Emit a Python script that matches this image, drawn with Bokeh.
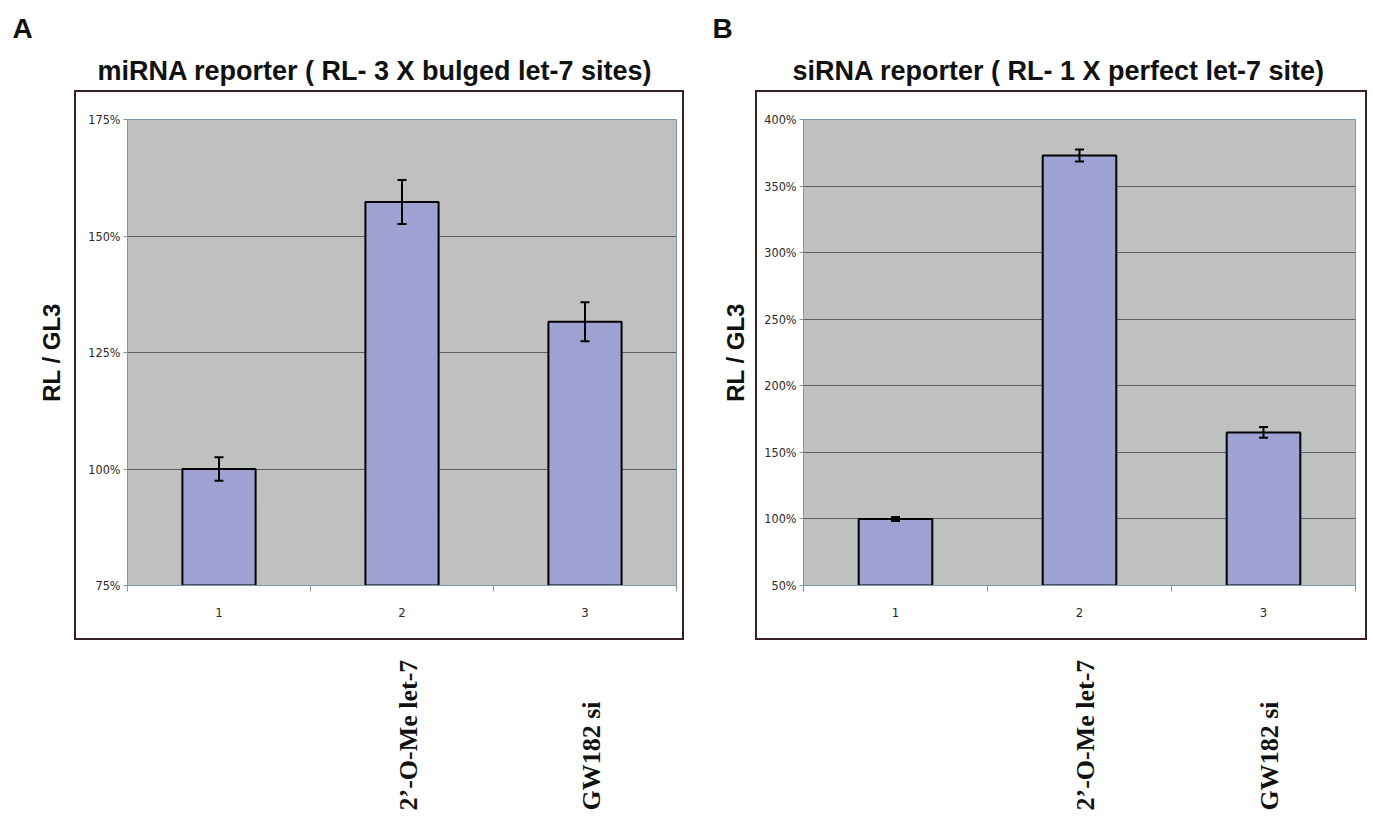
from math import pi
from bokeh.plotting import figure
from bokeh.models import (ColumnDataSource, Whisker, TeeHead, FixedTicker, Title,
                          PrintfTickFormatter, Label, Range1d, InlineStyleSheet)
from bokeh.layouts import row, column
from bokeh.embed import file_html
from bokeh.resources import INLINE

# ---------------- data ----------------
categories = [1, 2, 3]
a_values = [100.0, 157.3, 131.6]
a_errors = [2.5, 4.7, 4.2]
b_values = [100.0, 373.0, 165.0]
b_errors = [1.5, 4.5, 4.0]
a_ticks = [75, 100, 125, 150, 175]
b_ticks = [50, 100, 150, 200, 250, 300, 350, 400]
treatment_ticks = [2, 3]
treatment_labels = ["2\u2019-O-Me let-7", "GW182 si"]
panel_letters = ["A", "B"]
panel_titles = ["miRNA reporter ( RL- 3 X bulged let-7 sites)",
                "siRNA reporter ( RL- 1 X perfect let-7 site)"]
y_label = "RL / GL3"

BAR_FILL = "#9da2d2"
GRAY = "#c0c0c0"
GRID = "#5a5e60"
AXIS = "#7d97a6"
BOX = "#3a2222"
TEXT = "#111111"
TICK_TEXT = "#2a2a2a"

HEAD_H = 90      # header strip (letter + title)
MAIN_H = 550     # chart strip (outer box region)
FOOT_H = 188     # rotated treatment labels
HEAD_FRAME_TOP = 82


def blank_fig(width, height, x_range, geo, top=0):
    f = figure(width=width, height=height, output_backend="svg", toolbar_location=None,
               x_range=x_range, y_range=Range1d(0, 1),
               x_axis_location=None, y_axis_location=None,
               min_border_top=top, min_border_bottom=0,
               min_border_left=geo["frame_l"] - geo["fig_x"],
               min_border_right=geo["fig_x"] + geo["width"] - geo["frame_r"],
               background_fill_color="white", border_fill_color="white",
               outline_line_color=None)
    f.grid.visible = False
    return f


def make_panel(letter, title, values, errors, ticks, geo):
    x0 = geo["fig_x"]
    W = geo["width"]
    xr = Range1d(0.5, 3.5)

    # ---- header: chart title + panel letter (stacked titles) ----
    head = blank_fig(W, HEAD_H, xr, geo, top=HEAD_FRAME_TOP)
    head.add_layout(Title(text=title, align="left", offset=geo["title_x"] - geo["frame_l"],
                          text_font="Liberation Sans", text_font_style="bold",
                          text_font_size="27px", text_color=TEXT, standoff=0), "above")
    head.add_layout(Title(text=letter, align="left", offset=geo["letter_x"] - geo["frame_l"],
                          text_font="Liberation Sans", text_font_style="bold",
                          text_font_size="28px", text_color=TEXT, standoff=20), "above")

    # ---- main chart ----
    p = figure(width=W, height=MAIN_H, output_backend="svg", toolbar_location=None,
               x_range=xr, y_range=Range1d(ticks[0], ticks[-1]),
               min_border_left=geo["frame_l"] - x0, min_border_right=x0 + W - geo["frame_r"],
               min_border_top=geo["frame_t"] - HEAD_H,
               min_border_bottom=HEAD_H + MAIN_H - geo["frame_b"],
               background_fill_color=GRAY, border_fill_color="white",
               outline_line_color=AXIS, outline_line_width=1)
    p.xgrid.visible = False
    p.ygrid.ticker = FixedTicker(ticks=ticks)
    p.ygrid.grid_line_color = GRID
    p.ygrid.grid_line_width = 1.2

    src = ColumnDataSource(dict(x=categories, top=values,
                                upper=[v + e for v, e in zip(values, errors)],
                                lower=[v - e for v, e in zip(values, errors)]))
    p.vbar(x="x", top="top", bottom=ticks[0], width=0.4, source=src,
           fill_color=BAR_FILL, line_color="black", line_width=2)
    p.add_layout(Whisker(source=src, base="x", upper="upper", lower="lower",
                         line_color="black", line_width=2, level="overlay",
                         upper_head=TeeHead(size=9, line_color="black", line_width=2),
                         lower_head=TeeHead(size=9, line_color="black", line_width=2)))

    ya = p.yaxis[0]
    ya.ticker = FixedTicker(ticks=ticks)
    ya.formatter = PrintfTickFormatter(format="%d%%")
    ya.axis_line_color = AXIS
    ya.major_tick_line_color = AXIS
    ya.major_tick_out = 4
    ya.major_tick_in = 0
    ya.minor_tick_line_color = None
    ya.major_label_standoff = 3
    ya.major_label_text_font = "DejaVu Sans Condensed"
    ya.major_label_text_font_size = "12.5px"
    ya.major_label_text_color = TICK_TEXT
    ya.axis_label = y_label
    ya.axis_label_text_font = "Liberation Sans"
    ya.axis_label_text_font_style = "bold"
    ya.axis_label_text_font_size = "24px"
    ya.axis_label_text_color = TEXT
    ya.axis_label_standoff = geo["ylab_standoff"]

    xa = p.xaxis[0]
    xa.ticker = FixedTicker(ticks=categories, minor_ticks=[0.5, 1.5, 2.5, 3.5])
    xa.axis_line_color = AXIS
    xa.major_tick_line_color = None
    xa.major_tick_out = 0
    xa.minor_tick_line_color = AXIS
    xa.minor_tick_out = 6
    xa.minor_tick_in = 0
    xa.major_label_standoff = 16
    xa.major_label_text_font = "DejaVu Sans Condensed"
    xa.major_label_text_font_size = "13px"
    xa.major_label_text_color = TICK_TEXT

    # ---- footer: rotated treatment labels aligned with the bars ----
    foot = blank_fig(W, FOOT_H, xr, geo)
    for c, t in zip(treatment_ticks, treatment_labels):
        foot.add_layout(Label(x=c, y=810 - HEAD_H - MAIN_H, x_units="data", y_units="canvas",
                              x_offset=6, text=t, angle=pi / 2,
                              text_font="Liberation Serif", text_font_style="bold",
                              text_font_size="26px", text_align="left",
                              text_baseline="middle", text_color=TEXT))
    return column(head, p, foot)


geo_a = dict(fig_x=0, width=698, frame_l=127, frame_r=676, frame_t=119, frame_b=585,
             box_l=74, box_r=684, box_t=90, box_b=640, letter_x=12, title_x=97,
             ylab_standoff=20)
geo_b = dict(fig_x=698, width=675, frame_l=803, frame_r=1355, frame_t=119, frame_b=585,
             box_l=755, box_r=1367, box_t=90, box_b=640, letter_x=712, title_x=792,
             ylab_standoff=12)

col_a = make_panel(panel_letters[0], panel_titles[0], a_values, a_errors, a_ticks, geo_a)
col_b = make_panel(panel_letters[1], panel_titles[1], b_values, b_errors, b_ticks, geo_b)


def box_css(pseudo, g):
    return (":host::%s { content: ''; position: absolute; left: %dpx; top: %dpx; "
            "width: %dpx; height: %dpx; border: 2.5px solid %s; box-sizing: border-box; "
            "pointer-events: none; z-index: 5; }"
            % (pseudo, g["box_l"], g["box_t"], g["box_r"] - g["box_l"], g["box_b"] - g["box_t"], BOX))


layout = row(col_a, col_b,
             stylesheets=[InlineStyleSheet(css=box_css("before", geo_a) + "\n" + box_css("after", geo_b))])
open("out.html", "w").write(file_html(layout, INLINE))
